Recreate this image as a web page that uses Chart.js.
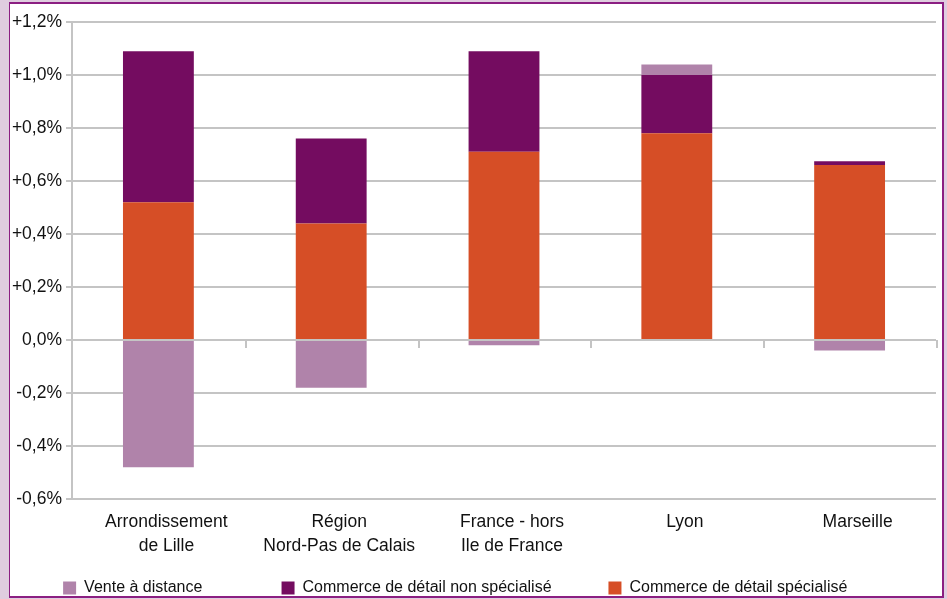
<!DOCTYPE html>
<html lang="fr">
<head>
  <meta charset="UTF-8" />
  <title>Commerce de détail - évolution</title>
  <style>
    body { margin: 0; background: #dfcddf; width: 947px; height: 599px; overflow: hidden; }
    #frame { position: absolute; left: 9px; top: 2px; width: 935px; height: 596px; box-sizing: border-box;
             border: 2px solid #8b1f82; border-left-width: 1px; background: #fff; }
    canvas { display: block; }
  </style>
</head>
<body>
  <div id="frame"><canvas id="chart" width="932" height="592"></canvas></div>

  <script src="https://cdn.jsdelivr.net/npm/chart.js"></script>
  <script>
    // categories
    const zones = [
      ["Arrondissement", "de Lille"],
      ["Région", "Nord-Pas de Calais"],
      ["France - hors", "Ile de France"],
      "Lyon",
      "Marseille"
    ];
    // series (en %)
    const venteDistance = [-0.48, -0.18, -0.02, 0.04, -0.04];
    const nonSpecialise = [0.57, 0.32, 0.38, 0.22, 0.015];
    const specialise    = [0.52, 0.44, 0.71, 0.78, 0.66];
    // axe y
    const yMin = -0.6, yMax = 1.2, yStep = 0.2;

    const fontFam = "'Liberation Sans', Arial, sans-serif";
    // espacement des entrées de légende (comme les colonnes du tableur)
    const legendGap = [16, 11, 8];

    function fmtPct(v) {
      if (Math.abs(v) < 1e-9) return "0,0%";
      return (v > 0 ? "+" : "") + v.toFixed(1).replace(".", ",") + "%";
    }

    // petits traits de l'axe des catégories sur la ligne du zéro
    const zeroTicks = {
      id: "zeroTicks",
      afterDatasetsDraw(chart) {
        const x = chart.scales.x, y = chart.scales.y, ctx = chart.ctx;
        const y0 = y.getPixelForValue(0);
        const step = (x.right - x.left) / zones.length;
        ctx.save();
        ctx.strokeStyle = "#c4c4c4";
        ctx.lineWidth = 2;
        for (let i = 1; i <= zones.length; i++) {
          const px = Math.round(x.left + i * step) + 1;
          ctx.beginPath();
          ctx.moveTo(px, y0);
          ctx.lineTo(px, y0 + 8);
          ctx.stroke();
        }
        ctx.restore();
      }
    };

    new Chart(document.getElementById("chart"), {
      type: "bar",
      data: {
        labels: zones,
        datasets: [
          { label: "Vente à distance", data: venteDistance, backgroundColor: "#b083aa", order: 3 },
          { label: "Commerce de détail non spécialisé", data: nonSpecialise, backgroundColor: "#740c60", order: 2 },
          { label: "Commerce de détail spécialisé", data: specialise, backgroundColor: "#d64e26", order: 1 }
        ]
      },
      options: {
        responsive: false,
        animation: false,
        layout: { padding: { top: 18, right: 6, bottom: -10, left: 0 } },
        datasets: { bar: { categoryPercentage: 1, barPercentage: 0.41 } },
        scales: {
          x: {
            stacked: true,
            grid: { display: false, drawTicks: false },
            border: { display: false },
            ticks: { color: "#111", padding: 11, labelOffset: 8, maxRotation: 0, autoSkip: false,
                     font: { family: fontFam, size: 17.5, lineHeight: 1.38 } },
            afterFit: s => { s.height = 73; }
          },
          y: {
            stacked: true,
            min: yMin, max: yMax,
            ticks: { stepSize: yStep, color: "#111", padding: 4, callback: fmtPct,
                     font: { family: fontFam, size: 17.5 } },
            grid: { color: "#c4c4c4", lineWidth: 2, tickLength: 6 },
            border: { color: "#c4c4c4", width: 2 },
            afterFit: s => { s.width = 62; }
          }
        },
        plugins: {
          legend: {
            position: "bottom",
            labels: {
              boxWidth: 13, boxHeight: 13, padding: 8, color: "#111",
              font: { family: fontFam, size: 16 },
              sort: (a, b) => a.datasetIndex - b.datasetIndex,
              generateLabels(chart) {
                const items = Chart.defaults.plugins.legend.labels.generateLabels(chart);
                items.forEach(it => { it.text += "\u00A0".repeat(legendGap[it.datasetIndex]); });
                return items;
              }
            }
          },
          tooltip: { enabled: false }
        }
      },
      plugins: [zeroTicks]
    });
  </script>
</body>
</html>
